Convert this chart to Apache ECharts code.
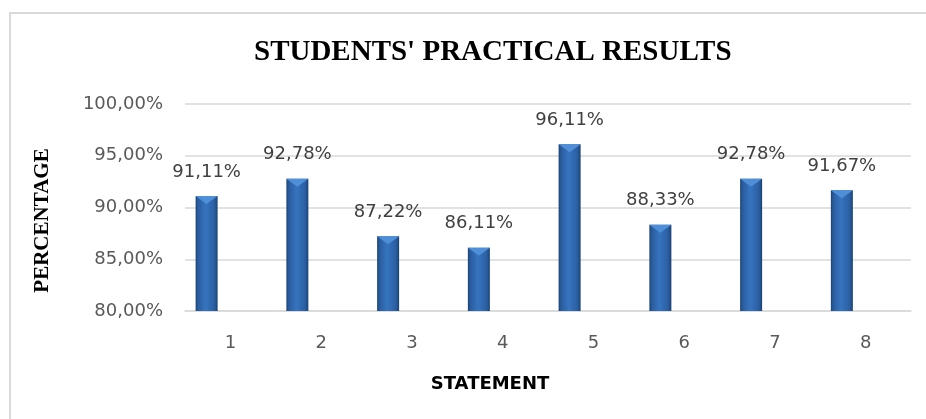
<!DOCTYPE html>
<html><head><meta charset="utf-8">
<script src="https://cdn.jsdelivr.net/npm/echarts@6/dist/echarts.min.js"></script>
<style>html,body{margin:0;padding:0;background:#fff}#c{width:926px;height:419px}</style>
</head><body><div id="c"></div>
<script>
const categories = ['1','2','3','4','5','6','7','8'];
const values = [91.11, 92.78, 87.22, 86.11, 96.11, 88.33, 92.78, 91.67];
const yTicks = {min: 80, max: 100, interval: 5};
const titleText = "STUDENTS' PRACTICAL RESULTS";
const xTitle = 'STATEMENT';
const yTitle = 'PERCENTAGE';

const fmt = v => v.toFixed(2).replace('.', ',') + '%';
const chart = echarts.init(document.getElementById('c'));
const barColor = {
  type: 'linear', x: 0, y: 0, x2: 1, y2: 0,
  colorStops: [
    {offset: 0, color: '#1c4477'},
    {offset: 0.12, color: '#2a5d9f'},
    {offset: 0.45, color: '#3674bf'},
    {offset: 0.85, color: '#2b5fa2'},
    {offset: 1, color: '#1a4274'}
  ]
};
chart.setOption({
  animation: false,
  graphic: [{
    type: 'rect', shape: {x: 10, y: 13, width: 940, height: 440},
    style: {fill: 'none', stroke: '#d9d9d9', lineWidth: 2}, silent: true
  }],
  title: {
    text: titleText, left: 249, top: 33,
    textStyle: {fontFamily: 'Liberation Serif', fontWeight: 'bold', fontSize: 29, color: '#000'}
  },
  grid: {left: 185, right: 15, top: 104, bottom: 108},
  xAxis: {
    type: 'category', data: categories,
    name: xTitle, nameLocation: 'middle', nameGap: 64,
    nameTextStyle: {fontFamily: 'DejaVu Sans', fontWeight: 'bold', fontSize: 18, color: '#000', padding: [0, 116, 0, 0]},
    axisLine: {lineStyle: {color: '#d9d9d9', width: 1.5}},
    axisTick: {show: false},
    axisLabel: {fontFamily: 'DejaVu Sans', fontSize: 18, color: '#595959', margin: 23}
  },
  yAxis: {
    type: 'value', min: yTicks.min, max: yTicks.max, interval: yTicks.interval,
    name: yTitle, nameLocation: 'middle', nameGap: 132, nameRotate: 90,
    nameTextStyle: {fontFamily: 'Liberation Serif', fontWeight: 'bold', fontSize: 21, color: '#000', padding: [0, 26, 0, 0]},
    axisLine: {show: false}, axisTick: {show: false},
    splitLine: {lineStyle: {color: '#d9d9d9', width: 1.5}},
    axisLabel: {fontFamily: 'DejaVu Sans', fontSize: 18, color: '#595959', margin: 22, formatter: v => fmt(v)}
  },
  series: [{
    type: 'bar', data: values, barWidth: 22, barGap: '116%',
    itemStyle: {color: barColor},
    label: {show: true, position: 'top', distance: 15, fontFamily: 'DejaVu Sans', fontSize: 18, color: '#404040',
      formatter: p => fmt(p.value)}
  }, {
    type: 'bar', data: values.map(() => null), barWidth: 22, barGap: '116%'
  }, {
    type: 'pictorialBar', data: values, symbol: 'triangle', symbolRotate: 180,
    symbolSize: [22, 8], symbolPosition: 'end', symbolOffset: [-23.8, 0], z: 5,
    itemStyle: {color: '#4f8fd8'}, silent: true
  }]
});
</script></body></html>
